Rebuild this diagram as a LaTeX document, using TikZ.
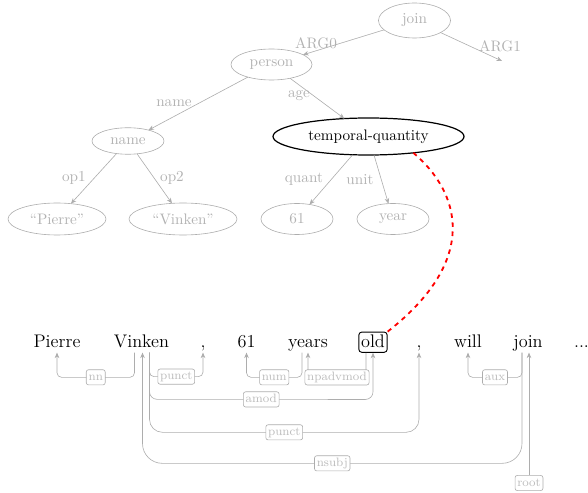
\documentclass[tikz,border=0pt]{standalone}
\usetikzlibrary{shapes.geometric,arrows.meta,calc}
\definecolor{amrgray}{gray}{0.68}
\definecolor{amrtext}{gray}{0.70}
\definecolor{lbltext}{gray}{0.74}
\begin{document}
\begin{tikzpicture}[x=0.6579pt, y=-0.6579pt,
  amr/.style={ellipse, draw=amrgray, text=amrtext, inner sep=0pt, outer sep=0pt, line width=0.4pt},
  focus/.style={ellipse, draw=black, text=black, inner sep=0pt, outer sep=0pt, line width=0.8pt},
  sz/.style 2 args={minimum width=#1*0.6579pt, minimum height=#2*0.6579pt},
  tip/.style={-{Stealth[length=3.6pt,width=3pt]}},
  amredge/.style={draw=amrgray, line width=0.4pt, tip},
  rel/.style={text=amrtext, inner sep=0pt},
  off/.style 2 args={xshift=(#1)*0.6579pt, yshift=(#2)*(-0.6579pt)},
  word/.style={font=\large, text=black, inner sep=1.5pt, text depth=2pt, anchor=base},
  dep/.style={draw=amrgray, line width=0.4pt, rounded corners=#1, tip},
  dep/.default=3pt,
  deplbl/.style={draw=amrgray, fill=white, text=lbltext, font=\footnotesize,
    rounded corners=1.5pt, inner sep=1.5pt, text height=5.5pt, text depth=1.5pt},
  link/.style={red, dashed, line width=1.2pt}
]
\useasboundingbox (0,0) rectangle (588,493);

% AMR graph
\node[amr, sz={72}{35}] (join) at (414.5,20.5) {join};
\node[amr, sz={81}{31}] (person) at (271.5,64.5) {person};
\node[amr, sz={72}{26.5}] (name) at (128,141) {name};
\node[focus, sz={191}{37}] (tq) at (368.5,136.5) {temporal-quantity};
\node[amr, sz={98}{32}] (qpierre) at (57,219) {``Pierre''};
\node[amr, sz={108}{32}] (qvinken) at (183,219) {``Vinken''};
\node[amr, sz={72}{31}] (n61) at (297,219) {61};
\node[amr, sz={72}{31}] (year) at (393,219) {year};
\coordinate (arg1end) at (502,61);

\draw[amredge] (join) -- node[rel, pos=0.84, off={0}{-7.8}] {ARG0} (person);
\draw[amredge] (join) -- node[rel, pos=0.85, off={7.2}{-10.8}] {ARG1} (arg1end);
\draw[amredge] (person) -- node[rel, pos=0.743, off={0}{-13.5}] {name} (name);
\draw[amredge] (person) -- node[rel, pos=0.45, off={-15.5}{-0.4}] {age} (tq);
\draw[amredge] (name) -- node[rel, pos=0.5, off={-19.8}{-0.6}] {op1} (qpierre);
\draw[amredge] (name) -- node[rel, pos=0.5, off={17.5}{-0.5}] {op2} (qvinken);
\draw[amredge] (tq) -- node[rel, pos=0.5, off={-27.2}{-0.6}] {quant} (n61);
\draw[amredge] (tq) -- node[rel, pos=0.5, off={-21.2}{0.7}] {unit} (year);

% sentence
\node[word] (w1) at (57,347) {Pierre};
\node[word] (w2) at (141.5,347) {Vinken};
\node[word] (w3) at (203,347) {,};
\node[word] (w4) at (246.5,347) {61};
\node[word] (w5) at (308,347) {years};
\node[word, draw=black, rounded corners=2pt, line width=0.6pt] (w6) at (373,347) {old};
\node[word] (w7) at (419,347) {,};
\node[word] (w8) at (468,347) {will};
\node[word] (w9) at (528,347) {join};
\node[word] (w10) at (581.5,347) {...};

% dependency arcs
\draw[dep] ($(w2.south)+(-7,0)$) -- ++(0,24.7) -- node[deplbl] {nn} ($(w1.south)+(0,24.7)$) -- (w1.south);
\draw[dep] ($(w2.south)+(8,0)$) -- ++(0,24) -- node[deplbl] {punct} ($(w3.south)+(0,24)$) -- (w3.south);
\draw[dep=5pt] ($(w2.south)+(8,0)$) -- ++(0,46.7) -- node[deplbl] {amod} ($(w6.south)+(0,46.7)$) -- (w6.south);
\draw[dep=8.5pt] ($(w2.south)+(8,0)$) -- ++(0,79.7) -- node[deplbl] {punct} ($(w7.south)+(0,79.7)$) -- (w7.south);
\draw[dep=13pt] ($(w9.south)+(-6,0)$) -- ++(0,110.7) -- node[deplbl] {nsubj} ($(w2.south)+(1,110.7)$) -- ($(w2.south)+(1,0)$);
\draw[dep] ($(w5.south)+(-6,0)$) -- ++(0,24.7) -- node[deplbl] {num} ($(w4.south)+(0,24.7)$) -- (w4.south);
\draw[dep] ($(w6.south)+(-7,0)$) -- ++(0,24.7) -- node[deplbl] {npadvmod} ($(w5.south)+(0,24.7)$) -- (w5.south);
\draw[dep] ($(w9.south)+(-6,0)$) -- ++(0,24.7) -- node[deplbl] {aux} ($(w8.south)+(0,24.7)$) -- (w8.south);
\node[deplbl] (root) at (529,483) {root};
\draw[dep] (root.north) -- (root.north |- w9.south);

% alignment link
\draw[link] (w6.north east) .. controls (480.6,258.8) and (459.7,192.2) .. (tq.-20);
\end{tikzpicture}
\end{document}
